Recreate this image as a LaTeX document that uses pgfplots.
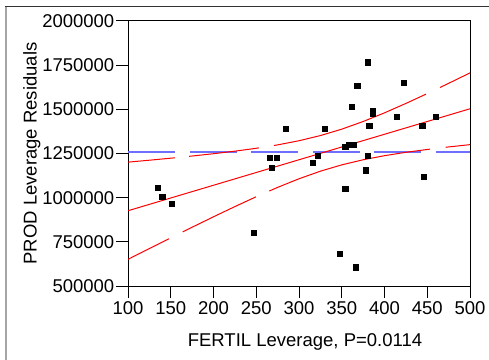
\documentclass[border=0pt]{standalone}
\usepackage{fontspec}
\setmainfont{Liberation Sans}
\usepackage{pgfplots}
\pgfplotsset{compat=1.18}
\definecolor{meanblue}{RGB}{110,110,255}
\definecolor{fitred}{RGB}{255,0,0}
\begin{document}
\begin{tikzpicture}[font=\fontsize{18.5bp}{22bp}\selectfont]
\path[use as bounding box] (0bp,0bp) rectangle (489bp,360bp);
\draw[gray!70, line width=2bp] (6bp,0bp) -- (6bp,353bp);
\draw[black!80, line width=1bp] (5bp,353bp) -- (489bp,353bp);
\begin{axis}[
  at={(128bp,74bp)}, anchor=south west,
  scale only axis, width=342bp, height=265bp,
  xmin=100, xmax=500, ymin=500000, ymax=2000000,
  xtick={100,150,200,250,300,350,400,450,500},
  xticklabels={100,150,200,250,300,350,400,450,500},
  ytick={500000,750000,1000000,1250000,1500000,1750000,2000000},
  yticklabels={500000,750000,1000000,1250000,1500000,1750000,2000000},
  scaled y ticks=false,
  xtick pos=left, ytick pos=left,
  tick align=outside, major tick length=12bp,
  tick style={black, line width=1bp},
  axis line style={line width=1bp},
  yticklabel style={inner xsep=1.5bp},
  /pgf/number format/assume math mode=true,
  xlabel={FERTIL Leverage, P=0.0114},
  ylabel={PROD Leverage Residuals},
  xlabel style={at={(axis description cs:0.5175,-0.229)}, anchor=base},
  ylabel style={at={(axis description cs:-0.267,0.5)}, anchor=base},
  clip=true,
]
% mean line
\addplot[meanblue, line width=1.6bp, dash pattern=on 47bp off 14.5bp] coordinates {(100,1260000) (500,1260000)};
% upper confidence curve
\addplot[fitred, line width=1bp, dash pattern=on 47.2bp off 14.1bp on 70.3bp off 15.3bp on 161.1bp off 15.6bp on 80bp] coordinates {
(100,1201000) (125,1212000) (150,1223500) (175,1235700) (200,1248850) (225,1263250) (250,1279550) (275,1298765) (300,1322200) (325,1351475) (350,1387780) (375,1431075) (400,1480110) (425,1533285) (450,1589260) (475,1647125) (500,1706250)};
% lower confidence curve
\addplot[fitred, line width=1bp, dash pattern=on 45.9bp off 15.3bp on 81.2bp off 14.6bp on 166.8bp off 15.8bp on 80bp] coordinates {
(100,651000) (125,712000) (150,772700) (175,832700) (200,891750) (225,949500) (250,1005350) (275,1058285) (300,1107000) (325,1149875) (350,1185720) (375,1214575) (400,1237690) (425,1256665) (450,1272840) (475,1287125) (500,1300150)};
% fit line
\addplot[fitred, line width=1bp] coordinates {(100,926000) (500,1503200)};
% points
\addplot[only marks, mark=square*, mark size=2.6bp, mark options={fill=black, draw=black}] coordinates {
(135,1055000) (140,1004000) (151,964000) (247,800000) (266,1226000) (274,1226000)
(268,1168000) (284,1392000) (316,1198000) (322,1236000) (330,1392000) (348,683000)
(354,1050000) (354,1288000) (358,1302000) (364,1302000) (362,1517000) (366,606000)
(368,1632000) (378,1156000) (380,1767000) (380,1236000) (382,1409000) (386,1490000)
(386,1477000) (414,1458000) (422,1653000) (444,1409000) (446,1119000) (460,1458000)};
\end{axis}
\end{tikzpicture}
\end{document}
